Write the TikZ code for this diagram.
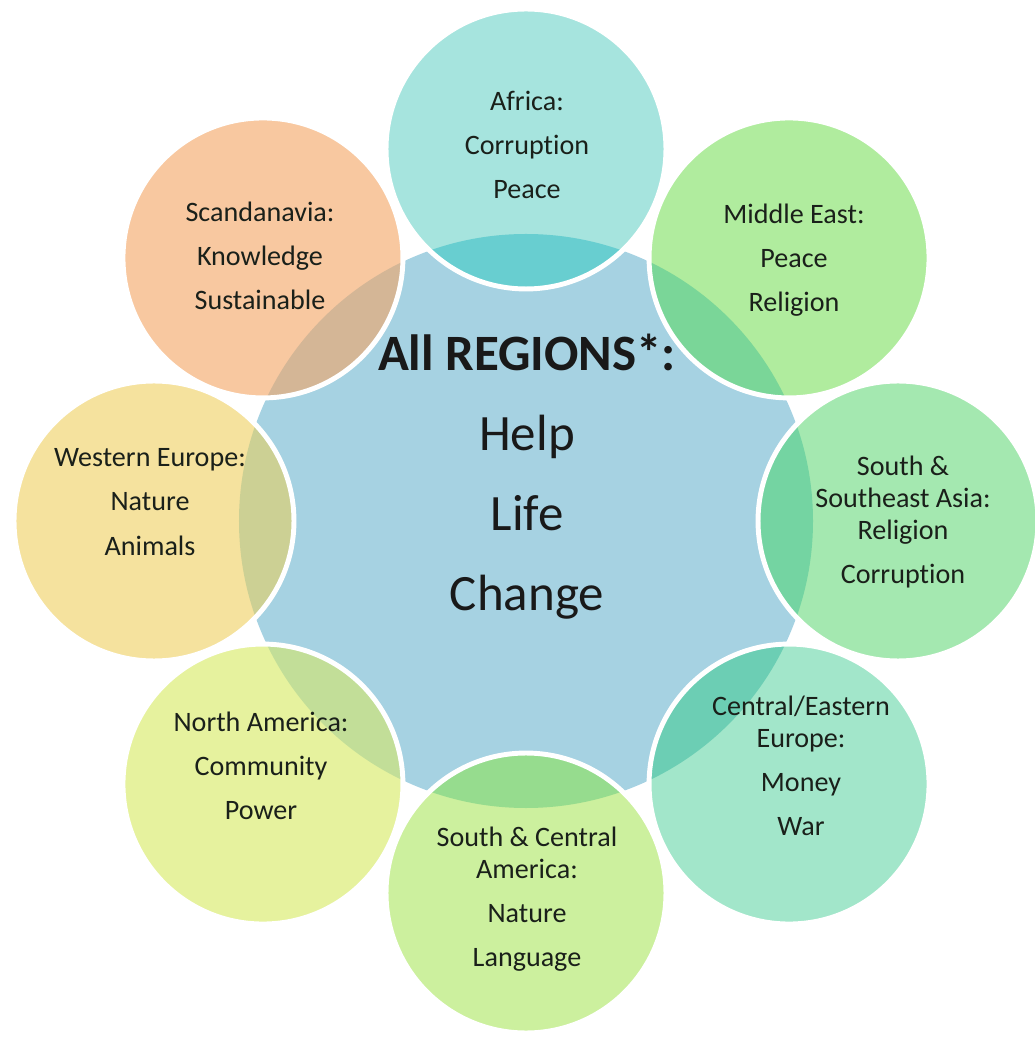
\documentclass[tikz,border=0pt]{standalone}
\usepackage{fontspec}
\setmainfont{Carlito}[Ligatures={NoCommon}]
\usepackage{xcolor}

\definecolor{hubblue}{RGB}{166,210,226}
\definecolor{inkdark}{RGB}{26,32,26}
\definecolor{afrfill}{RGB}{166,228,222}\definecolor{afrlens}{RGB}{104,206,208}
\definecolor{mdefill}{RGB}{176,236,158}\definecolor{mdelens}{RGB}{122,214,152}
\definecolor{ssafill}{RGB}{164,232,176}\definecolor{ssalens}{RGB}{116,212,162}
\definecolor{ceefill}{RGB}{162,230,202}\definecolor{ceelens}{RGB}{108,206,180}
\definecolor{scafill}{RGB}{204,240,158}\definecolor{scalens}{RGB}{150,220,142}
\definecolor{namfill}{RGB}{230,242,158}\definecolor{namlens}{RGB}{194,222,152}
\definecolor{weufill}{RGB}{245,226,158}\definecolor{weulens}{RGB}{204,208,148}
\definecolor{scnfill}{RGB}{248,200,160}\definecolor{scnlens}{RGB}{212,182,150}

\begin{document}
\begin{tikzpicture}[x=0.02cm,y=0.02cm,
  ring/.style={circle,minimum size=5.6cm,inner sep=0pt,draw=white,line width=2.8pt},
  lens/.style={path picture={\fill[#1](hub.center) circle (287);}},
  lbl/.style={align=center,font=\fontsize{16}{18.2}\selectfont,text=inkdark},
  big/.style={align=center,font=\fontsize{29}{45.5}\selectfont,text=black!90}]
  \useasboundingbox (-526,-519) rectangle (508,521);
  \node[circle,minimum size=11.48cm,inner sep=0pt,fill=hubblue] (hub) at (0,0) {};
  \node[ring,fill=afrfill,lens=afrlens] (afr) at (90:372) {};
  \node[ring,fill=mdefill,lens=mdelens] (mde) at (45:372) {};
  \node[ring,fill=ssafill,lens=ssalens] (ssa) at (0:372) {};
  \node[ring,fill=ceefill,lens=ceelens] (cee) at (-45:372) {};
  \node[ring,fill=scafill,lens=scalens] (sca) at (-90:372) {};
  \node[ring,fill=namfill,lens=namlens] (nam) at (-135:372) {};
  \node[ring,fill=weufill,lens=weulens] (weu) at (180:372) {};
  \node[ring,fill=scnfill,lens=scnlens] (scn) at (135:372) {};
  \node[big] (hubtxt) at (1,44) {\textbf{All REGIONS*:}\\Help\\Life\\Change};
  \node[lbl] (afrtxt) at (1,376) {Africa:\\[7pt]Corruption\\[7pt]Peace};
  \node[lbl] (mdetxt) at (268,261) {Middle East:\\[7pt]Peace\\[7pt]Religion};
  \node[lbl] (ssatxt) at (377,-1) {South \&\\Southeast Asia:\\Religion\\[7pt]Corruption};
  \node[lbl] (ceetxt) at (275,-245) {Central/Eastern\\Europe:\\[7pt]Money\\[7pt]War};
  \node[lbl] (scatxt) at (1,-378) {South \& Central\\America:\\[7pt]Nature\\[7pt]Language};
  \node[lbl] (namtxt) at (-265,-245) {North America:\\[7pt]Community\\[7pt]Power};
  \node[lbl] (weutxt) at (-376,19) {Western Europe:\\[7pt]Nature\\[7pt]Animals};
  \node[lbl] (scntxt) at (-266,265) {Scandanavia:\\[7pt]Knowledge\\[7pt]Sustainable};
\end{tikzpicture}
\end{document}
